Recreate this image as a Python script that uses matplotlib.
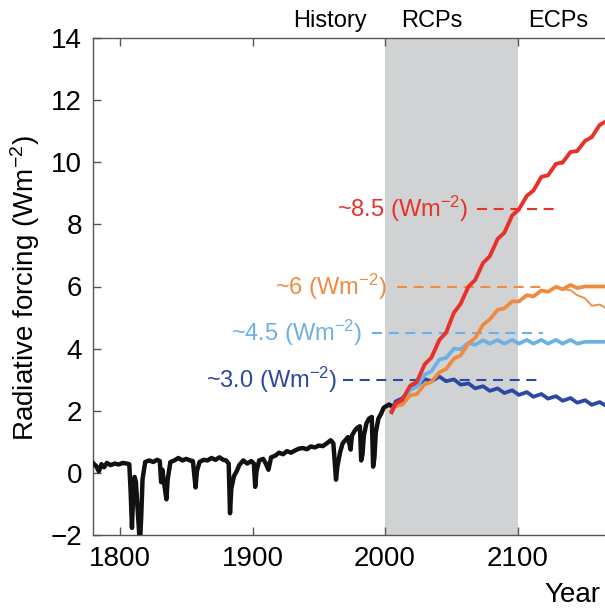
import matplotlib
matplotlib.use('Agg')
import matplotlib.pyplot as plt

plt.rcParams['font.family'] = ['Liberation Sans', 'DejaVu Sans']
plt.rcParams['mathtext.fontset'] = 'custom'
plt.rcParams['mathtext.rm'] = 'Liberation Sans'
plt.rcParams['mathtext.it'] = 'Liberation Sans'

# historical forcing (Wm-2)
hist_years = [1780, 1782, 1784, 1786, 1788, 1790, 1793, 1796, 1799, 1802, 1805, 1807,
              1808, 1809, 1810, 1811, 1812, 1813, 1815, 1816, 1817, 1819, 1822, 1825,
              1828, 1830, 1831, 1832, 1833, 1835, 1836, 1838, 1841, 1844, 1847, 1850,
              1853, 1855, 1857, 1858, 1860, 1863, 1866, 1869, 1872, 1875, 1878, 1880,
              1882, 1883, 1884, 1886, 1888, 1890, 1893, 1896, 1899, 1901, 1902, 1903,
              1905, 1908, 1910, 1912, 1914, 1917, 1920, 1923, 1926, 1929, 1932, 1935,
              1938, 1941, 1944, 1947, 1950, 1953, 1956, 1959, 1961, 1963, 1964, 1966,
              1968, 1970, 1972, 1974, 1975, 1977, 1979, 1981, 1982, 1983, 1984, 1986,
              1988, 1990, 1991, 1992, 1993, 1995, 1997, 1999, 2001, 2003, 2005]
hist_vals = [0.30, 0.22, 0.05, 0.28, 0.18, 0.32, 0.25, 0.30, 0.27, 0.32, 0.30, 0.28,
             -0.60, -1.77, -0.60, -0.13, -0.30, -1.00, -2.30, -1.40, -0.20, 0.35, 0.40, 0.35,
             0.42, 0.38, -0.30, 0.10, -0.25, -0.85, -0.20, 0.35, 0.40, 0.48, 0.40, 0.45,
             0.40, 0.38, -0.47, 0.05, 0.35, 0.42, 0.40, 0.48, 0.42, 0.50, 0.42, 0.40,
             0.30, -1.30, -0.50, -0.10, 0.05, 0.25, 0.40, 0.30, 0.38, 0.30, -0.45, 0.05,
             0.40, 0.45, 0.30, 0.10, 0.50, 0.55, 0.65, 0.60, 0.70, 0.65, 0.72, 0.78,
             0.80, 0.76, 0.85, 0.82, 0.88, 0.86, 0.95, 1.05, 0.95, -0.22, 0.20, 0.65,
             0.95, 1.05, 1.15, 0.75, 1.20, 1.35, 1.45, 1.50, 0.40, 0.60, 1.20, 1.60,
             1.75, 1.80, 0.20, 0.50, 1.30, 1.75, 1.90, 2.10, 2.15, 2.20, 2.15]

# scenario pathways, points at solar-cycle peaks and troughs
scen_years = [2005, 2008, 2013, 2019, 2024, 2030, 2035, 2041, 2046, 2052, 2057, 2063,
              2068, 2074, 2079, 2085, 2090, 2096, 2101, 2107, 2112, 2118, 2123, 2129,
              2134, 2140, 2145, 2151, 2156, 2162, 2166]
rcp85 = [1.95, 2.23, 2.35, 2.81, 2.93, 3.50, 3.71, 4.28, 4.51, 5.16, 5.44, 6.00,
         6.21, 6.76, 6.97, 7.53, 7.73, 8.29, 8.48, 8.92, 9.09, 9.53, 9.58, 9.95,
         9.99, 10.33, 10.36, 10.69, 10.81, 11.20, 11.30]
rcp6 = [2.00, 2.15, 2.20, 2.49, 2.54, 2.85, 2.93, 3.24, 3.34, 3.68, 3.78, 4.17,
        4.34, 4.77, 4.94, 5.25, 5.30, 5.52, 5.52, 5.72, 5.68, 5.87, 5.83, 5.99,
        5.91, 6.05, 5.95, 6.00, 6.00, 6.00, 6.00]
rcp45 = [2.00, 2.18, 2.28, 2.67, 2.77, 3.16, 3.27, 3.65, 3.70, 4.00, 3.98, 4.19,
         4.12, 4.27, 4.16, 4.28, 4.16, 4.28, 4.16, 4.28, 4.16, 4.28, 4.16, 4.28,
         4.16, 4.28, 4.16, 4.22, 4.22, 4.22, 4.22]
rcp3 = [2.00, 2.30, 2.40, 2.70, 2.80, 3.02, 2.95, 3.10, 2.95, 3.01, 2.84, 2.88,
        2.72, 2.79, 2.64, 2.72, 2.57, 2.66, 2.51, 2.60, 2.45, 2.54, 2.39, 2.47,
        2.32, 2.41, 2.26, 2.34, 2.19, 2.28, 2.18]
# thinner RCP6 branch that declines after 2130
rcp6_alt_years = [2129, 2134, 2140, 2145, 2151, 2156, 2162, 2166]
rcp6_alt = [5.99, 5.92, 5.88, 5.72, 5.62, 5.38, 5.42, 5.32]

levels = [8.5, 6.0, 4.5, 3.0]
level_labels = ['~8.5 (Wm$^{-2}$)', '~6 (Wm$^{-2}$)', '~4.5 (Wm$^{-2}$)', '~3.0 (Wm$^{-2}$)']
label_x = [2062.5, 2001.5, 1982.5, 1963.8]
dash_start = [2069.5, 2009, 1990, 1968.5]
dash_end = [2130, 2119, 2119, 2119]
colors = ['#e8312a', '#f08a3f', '#6db1e4', '#2d48a2']

fig = plt.figure(figsize=(6.05, 6.13), dpi=100)
ax = fig.add_axes([93 / 605, 1 - 535 / 613, 512 / 605, 497 / 613])

ax.axvspan(2000, 2100, color='#d1d2d4', lw=0, zorder=0)

for lev, lab, lx, d0, d1, c in zip(levels, level_labels, label_x, dash_start, dash_end, colors):
    ax.plot([d0, d1], [lev, lev], color=c, lw=1.5, dashes=(4.8, 3.2), zorder=2)
    ax.text(lx, lev, lab, color=c, fontsize=17, ha='right', va='center')

ax.plot(hist_years, hist_vals, color='#111111', lw=3.2, zorder=3, solid_joinstyle='round')
ax.plot(scen_years, rcp3, color=colors[3], lw=2.7, zorder=4, solid_joinstyle='round')
ax.plot(scen_years, rcp45, color=colors[2], lw=2.7, zorder=5, solid_joinstyle='round')
ax.plot(rcp6_alt_years, rcp6_alt, color=colors[1], lw=1.3, zorder=6)
ax.plot(scen_years, rcp6, color=colors[1], lw=2.7, zorder=6, solid_joinstyle='round')
ax.plot(scen_years, rcp85, color=colors[0], lw=2.8, zorder=7, solid_joinstyle='round')

ax.set_xlim(1779.6, 2166)
ax.set_ylim(-2, 14)
ax.set_xticks([1800, 1900, 2000, 2100])
ax.set_yticks(range(-2, 15, 2))
ax.tick_params(direction='in', length=6, width=1, color='#555555', labelsize=20, pad=8,
               top=True, right=False)
for side in ['left', 'bottom', 'top']:
    ax.spines[side].set_color('#555555')
    ax.spines[side].set_linewidth(1)
ax.spines['right'].set_visible(False)

fig.text(25 / 605, 1 - 288 / 613, 'Radiative forcing (Wm$^{-2}$)', rotation=90,
         fontsize=20, ha='center', va='center')
fig.text(572 / 605, 1 - 595 / 613, 'Year', fontsize=20, ha='center', va='center')
fig.text(330 / 605, 1 - 21 / 613, 'History', fontsize=17, ha='center', va='center')
fig.text(432 / 605, 1 - 21 / 613, 'RCPs', fontsize=17, ha='center', va='center')
fig.text(558 / 605, 1 - 21 / 613, 'ECPs', fontsize=17, ha='center', va='center')

fig.savefig('out.png', dpi=100)
